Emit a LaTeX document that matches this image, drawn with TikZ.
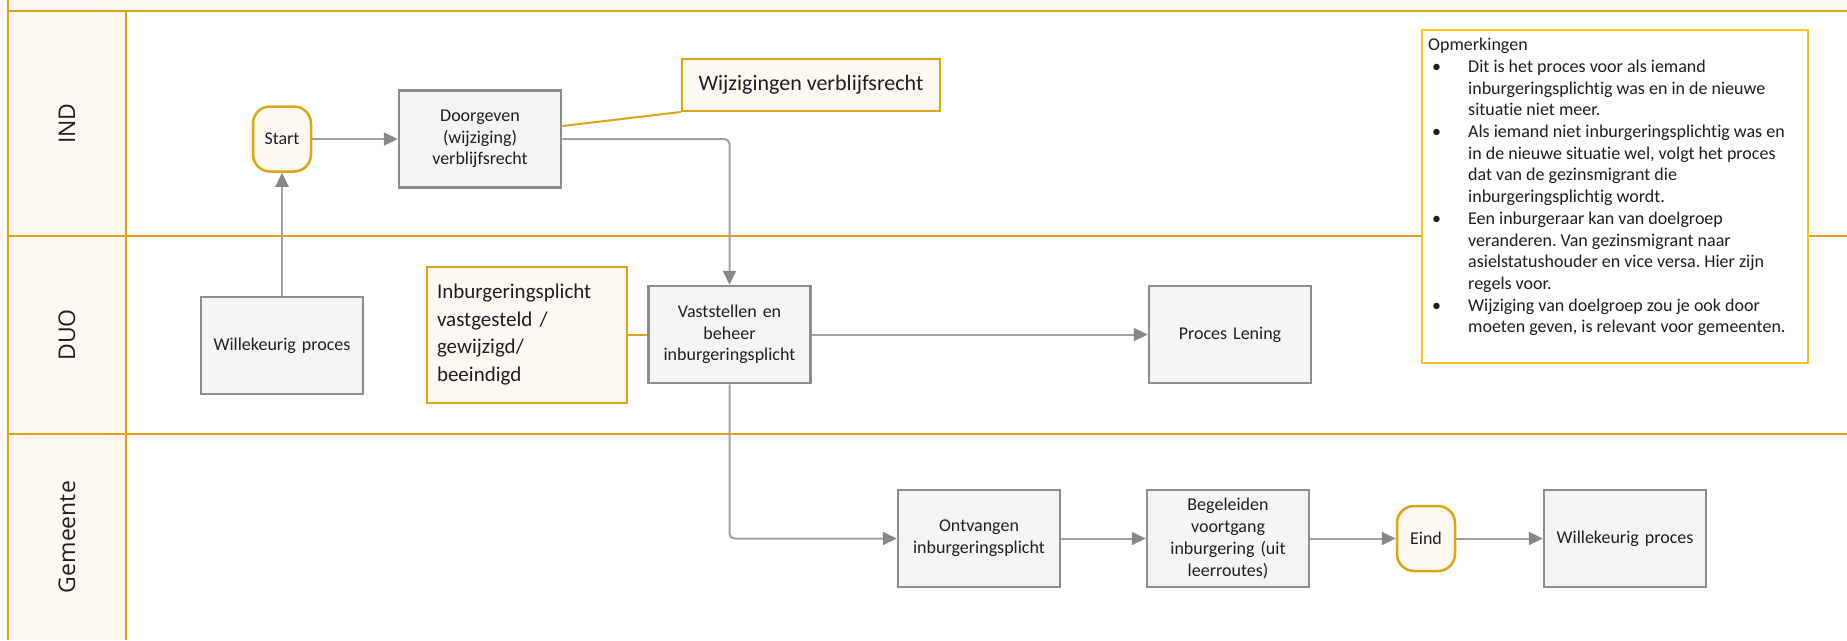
\documentclass[tikz,border=0pt]{standalone}
\usepackage{fontspec}
\setmainfont{Carlito}[Ligatures=NoCommon]
\newfontfamily\lanefont{Open Sans}
\usetikzlibrary{arrows.meta}
\definecolor{gold}{RGB}{222,165,18}
\definecolor{notegold}{RGB}{255,196,24}
\definecolor{cream}{RGB}{254,249,240}
\definecolor{boxfill}{RGB}{244,244,244}
\definecolor{boxline}{RGB}{140,140,140}
\definecolor{conn}{RGB}{160,160,160}
\definecolor{arrowc}{RGB}{135,135,135}
\definecolor{txt}{RGB}{30,30,38}
\newcommand{\nbul}{\makebox[40pt][l]{\hspace{4pt}\textbullet}}
\newcommand{\nind}{\hspace*{40pt}}
\frenchspacing
\begin{document}
\begin{tikzpicture}[x=1pt,y=-1pt,
  proc/.style={draw=boxline, line width=2.5pt, fill=boxfill, minimum width=162pt, minimum height=97pt, inner sep=2pt, align=center, text width=156pt, font=\fontsize{18}{21.7}\selectfont, text=txt},
  terminal/.style={draw=gold, line width=2.5pt, fill=cream, rounded corners=17pt, minimum width=58pt, minimum height=65pt, inner sep=0pt, font=\fontsize{18}{21.7}\selectfont, text=txt},
  annot/.style={draw=gold, line width=2pt, fill=cream, text=txt},
  lane/.style={draw=gold, line width=2.8pt},
  flow/.style={draw=conn, line width=2pt, -{Triangle[length=14pt,width=13pt,color=arrowc]}, rounded corners=5pt},
  lanelabel/.style={rotate=90, font=\lanefont\fontsize{23}{27}\selectfont, text=txt}
]
\useasboundingbox (0,0) rectangle (1847,640);
% background
\fill[cream] (8,0) rectangle (1847,11);
\fill[cream] (8,11) rectangle (126,640);
\draw[lane] (8,0) -- (8,640);
\draw[lane] (8,11) -- (1847,11);
\draw[lane] (8,236) -- (1847,236);
\draw[lane] (8,434) -- (1847,434);
\draw[lane] (126,11) -- (126,640);
% lane labels
\node[lanelabel] (lind) at (67,123.5) {IND};
\node[lanelabel] (lduo) at (67,335) {DUO};
\node[lanelabel] (lgem) at (67,537) {Gemeente};
% nodes
\node[terminal] (start) at (282,139) {Start};
\node[proc] (door) at (480,139) {Doorgeven\\(wijziging)\\verblijfsrecht};
\node[annot, minimum width=258pt, minimum height=52pt, font=\fontsize{22}{26}\selectfont] (wijz) at (811,85) {Wijzigingen verblijfsrecht};
\node[proc] (will1) at (282,345.5) {Willekeurig proces};
\node[annot, minimum height=136pt, text width=180pt, align=left, inner xsep=10pt, font=\fontsize{21}{27.8}\selectfont] (plicht) at (527,334.5) {Inburgeringsplicht\\vastgesteld /\\gewijzigd/\\beeindigd};
\node[proc] (vast) at (729.5,334.5) {Vaststellen en\\beheer\\inburgeringsplicht};
\node[proc] (lening) at (1230,334.5) {Proces Lening};
\node[proc] (ontv) at (979,538.5) {Ontvangen\\inburgeringsplicht};
\node[proc] (begel) at (1228,538.5) {Begeleiden\\voortgang\\inburgering (uit\\leerroutes)};
\node[terminal] (eind) at (1426,538.5) {Eind};
\node[proc] (will2) at (1625,538.5) {Willekeurig proces};
% note
\node[draw=notegold, line width=2.5pt, fill=white, minimum width=386pt, minimum height=333pt, inner sep=0pt] (note) at (1615,196.5) {};
\node[anchor=north west, inner sep=0pt, align=left, font=\fontsize{18}{21.7}\selectfont, text=txt] (notetext) at (1428,38) {Opmerkingen\\
\nbul Dit is het proces voor als iemand\\
\nind inburgeringsplichtig was en in de nieuwe\\
\nind situatie niet meer.\\
\nbul Als iemand niet inburgeringsplichtig was en\\
\nind in de nieuwe situatie wel, volgt het proces\\
\nind dat van de gezinsmigrant die\\
\nind inburgeringsplichtig wordt.\\
\nbul Een inburgeraar kan van doelgroep\\
\nind veranderen. Van gezinsmigrant naar\\
\nind asielstatushouder en vice versa. Hier zijn\\
\nind regels voor.\\
\nbul Wijziging van doelgroep zou je ook door\\
\nind moeten geven, is relevant voor gemeenten.};
% connectors
\draw[flow] (will1) -- (start);
\draw[flow] (start) -- (door);
\draw[flow] (door.east) -| (vast.north);
\draw[flow] (vast) -- (lening);
\draw[flow] (vast.south) |- (ontv.west);
\draw[flow] (ontv) -- (begel);
\draw[flow] (begel) -- (eind);
\draw[flow] (eind) -- (will2);
\draw[gold, line width=2pt] ([yshift=13pt]door.east) -- (wijz.south west);
\draw[gold, line width=2pt] (plicht) -- (vast);
\end{tikzpicture}
\end{document}
